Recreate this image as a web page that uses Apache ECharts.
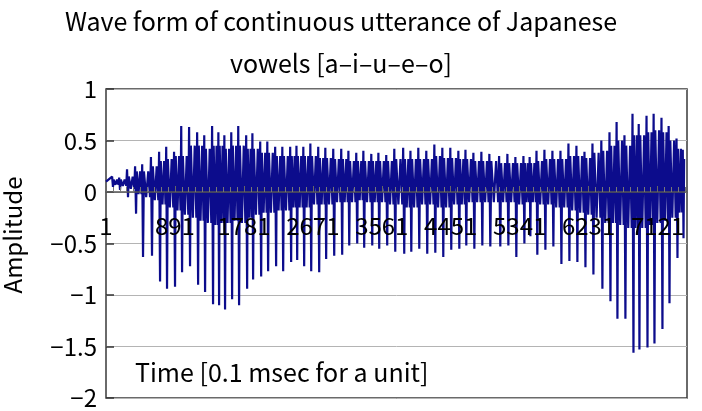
<!DOCTYPE html>
<html>
<head>
<meta charset="utf-8">
<script src="https://cdn.jsdelivr.net/npm/echarts@6/dist/echarts.min.js"></script>
<style>html,body{margin:0;padding:0;background:#fff;}#c{width:702px;height:411px;}</style>
</head>
<body>
<div id="c"></div>
<script>
// Time (0-based sample index) of each pitch period's sharp negative spike
const spikeT = [90,181,284,388,478,594,698,788,891,982,1085,1189,1279,1382,1460,1537,1628,1718,1822,1899,2003,2093,2196,2287,2390,2468,2558,2649,2752,2842,2946,3049,3140,3243,3333,3437,3527,3630,3734,3850,3941,4044,4147,4251,4354,4457,4561,4651,4755,4858,4961,5090,5194,5297,5401,5478,5568,5672,5775,5879,5982,6085,6189,6292,6408,6512,6602,6705,6809,6886,6990,7080,7183,7274,7377,7455];
// Minimum amplitude of each spike
const troughs = [0.05,0.02,-0.05,-0.21,-0.63,-0.62,-0.87,-0.94,-0.92,-0.78,-0.72,-0.9,-0.97,-1.09,-1.1,-1.14,-1.04,-1.1,-0.94,-0.85,-0.82,-0.77,-0.72,-0.77,-0.68,-0.66,-0.72,-0.77,-0.78,-0.65,-0.62,-0.61,-0.52,-0.5,-0.54,-0.52,-0.55,-0.52,-0.58,-0.6,-0.58,-0.55,-0.6,-0.59,-0.63,-0.56,-0.55,-0.52,-0.55,-0.52,-0.53,-0.53,-0.52,-0.63,-0.5,-0.43,-0.61,-0.56,-0.53,-0.7,-0.67,-0.68,-0.73,-0.8,-0.94,-1.06,-1.23,-1.23,-1.56,-1.53,-1.51,-1.47,-1.33,-1.08,-0.64,-0.45];
// Maximum amplitude just before each spike
const peaks = [0.15,0.14,0.22,0.25,0.27,0.34,0.39,0.44,0.39,0.64,0.63,0.58,0.55,0.64,0.58,0.55,0.58,0.64,0.55,0.57,0.49,0.49,0.44,0.44,0.44,0.45,0.44,0.47,0.44,0.43,0.42,0.42,0.4,0.38,0.4,0.37,0.38,0.36,0.42,0.43,0.4,0.43,0.4,0.46,0.43,0.43,0.4,0.41,0.38,0.39,0.37,0.35,0.37,0.34,0.35,0.34,0.4,0.41,0.4,0.4,0.47,0.45,0.39,0.47,0.5,0.58,0.68,0.55,0.76,0.66,0.74,0.76,0.72,0.64,0.52,0.41];
// Crest of the ripple band after each spike
const rebounds = [0.12,0.12,0.15,0.2,0.2,0.25,0.3,0.32,0.35,0.35,0.45,0.45,0.42,0.45,0.45,0.42,0.45,0.45,0.42,0.42,0.38,0.38,0.35,0.35,0.35,0.35,0.35,0.35,0.33,0.33,0.32,0.32,0.3,0.3,0.3,0.3,0.3,0.3,0.32,0.32,0.32,0.32,0.32,0.35,0.33,0.33,0.32,0.32,0.3,0.3,0.3,0.28,0.28,0.28,0.28,0.28,0.3,0.32,0.32,0.32,0.35,0.35,0.33,0.38,0.4,0.45,0.5,0.45,0.55,0.55,0.58,0.6,0.58,0.5,0.42,0.32];
// Lower edge of the ripple band within each period
const dips = [0.07,0.06,0.03,-0.02,-0.05,-0.08,-0.12,-0.15,-0.18,-0.22,-0.25,-0.28,-0.3,-0.32,-0.3,-0.3,-0.28,-0.3,-0.25,-0.22,-0.2,-0.2,-0.18,-0.18,-0.15,-0.15,-0.15,-0.12,-0.12,-0.12,-0.1,-0.1,-0.1,-0.08,-0.1,-0.1,-0.1,-0.12,-0.12,-0.15,-0.15,-0.12,-0.12,-0.15,-0.15,-0.12,-0.12,-0.1,-0.1,-0.1,-0.1,-0.1,-0.1,-0.12,-0.1,-0.1,-0.12,-0.12,-0.15,-0.15,-0.18,-0.2,-0.22,-0.25,-0.3,-0.3,-0.32,-0.35,-0.35,-0.35,-0.32,-0.3,-0.28,-0.25,-0.2,-0.1];
const startValue = 0.1;
const xTickStep = 890;
const xLastLabel = 7120;
const xMax = 7500;
const yMin = -2, yMax = 1, yStep = 0.5;

// Build the waveform points from the read values
const wave = [[0, startValue]];
for (let i = 0; i < spikeT.length; i++) {
  const prevT = i > 0 ? spikeT[i - 1] : 0;
  const P = spikeT[i] - prevT;
  wave.push([spikeT[i] - 0.12 * P, peaks[i]]);
  wave.push([spikeT[i], troughs[i]]);
  const hasNext = i + 1 < spikeT.length;
  const nP = hasNext ? spikeT[i + 1] - spikeT[i] : P;
  wave.push([spikeT[i] + 0.1 * nP, rebounds[i]]);
  if (hasNext) {
    wave.push([spikeT[i] + 0.35 * nP, dips[i]]);
    wave.push([spikeT[i] + 0.58 * nP, rebounds[i]]);
    wave.push([spikeT[i] + 0.78 * nP, dips[i]]);
  }
}

const gridTop = 89, gridH = 309, gridLeft = 106, gridW = 581;
const zeroOffset = gridH * (0 - yMin) / (yMax - yMin);
const font = '"Noto Sans CJK JP", "Noto Sans", sans-serif';
const chart = echarts.init(document.getElementById('c'), null, {renderer: 'canvas'});
chart.setOption({
  animation: false,
  backgroundColor: '#fff',
  title: {
    text: 'Wave form of continuous utterance of Japanese\nvowels [a\u2013i\u2013u\u2013e\u2013o]',
    left: 341, top: 0, padding: 0, textAlign: 'center',
    textStyle: {fontFamily: font, fontSize: 25, fontWeight: 'normal', color: '#000', lineHeight: 42}
  },
  grid: {left: gridLeft, top: gridTop, width: gridW, height: gridH, containLabel: false, outerBoundsMode: 'none',
    show: true, borderColor: '#3a3a3a', borderWidth: 1.5, backgroundColor: 'transparent'},
  xAxis: {
    type: 'value', min: 0, max: xMax, interval: xTickStep, z: 5,
    position: 'bottom', offset: -zeroOffset,
    axisLine: {onZero: false, lineStyle: {color: '#555', width: 1.5}},
    axisTick: {show: true, inside: true, length: 6, lineStyle: {color: '#666'}},
    minorTick: {show: true, splitNumber: 10, length: 5, lineStyle: {color: '#777'}},
    splitLine: {show: false},
    axisLabel: {
      margin: 22, fontFamily: font, fontSize: 24, color: '#000', showMaxLabel: false, hideOverlap: false,
      formatter: v => (v % xTickStep === 0 && v <= xLastLabel) ? String(v + 1) : ''
    }
  },
  yAxis: {
    type: 'value', min: yMin, max: yMax, interval: yStep,
    axisLine: {show: false},
    axisTick: {show: true, inside: true, length: 8, lineStyle: {color: '#333', width: 1.5}},
    splitLine: {show: true, lineStyle: {color: '#b4b4b4', width: 1}},
    axisLabel: {margin: 9, fontFamily: font, fontSize: 24, color: '#000',
      formatter: v => String(v).replace('-', '\u2212')}
  },
  graphic: [{
    type: 'text', left: 135, top: 360, z: 10,
    style: {text: 'Time [0.1 msec for a unit]', font: '25px ' + font, fill: '#000'}
  }, {
    type: 'text', x: 13, y: 235, rotation: Math.PI / 2, z: 10,
    style: {text: 'Amplitude', font: '24px ' + font, fill: '#000', align: 'center', verticalAlign: 'middle'}
  }],
  series: [{
    type: 'line', data: wave, showSymbol: false, symbol: 'none', z: 2,
    lineStyle: {color: '#0c0c8c', width: 2.2}, sampling: false
  }]
});
</script>
</body>
</html>
